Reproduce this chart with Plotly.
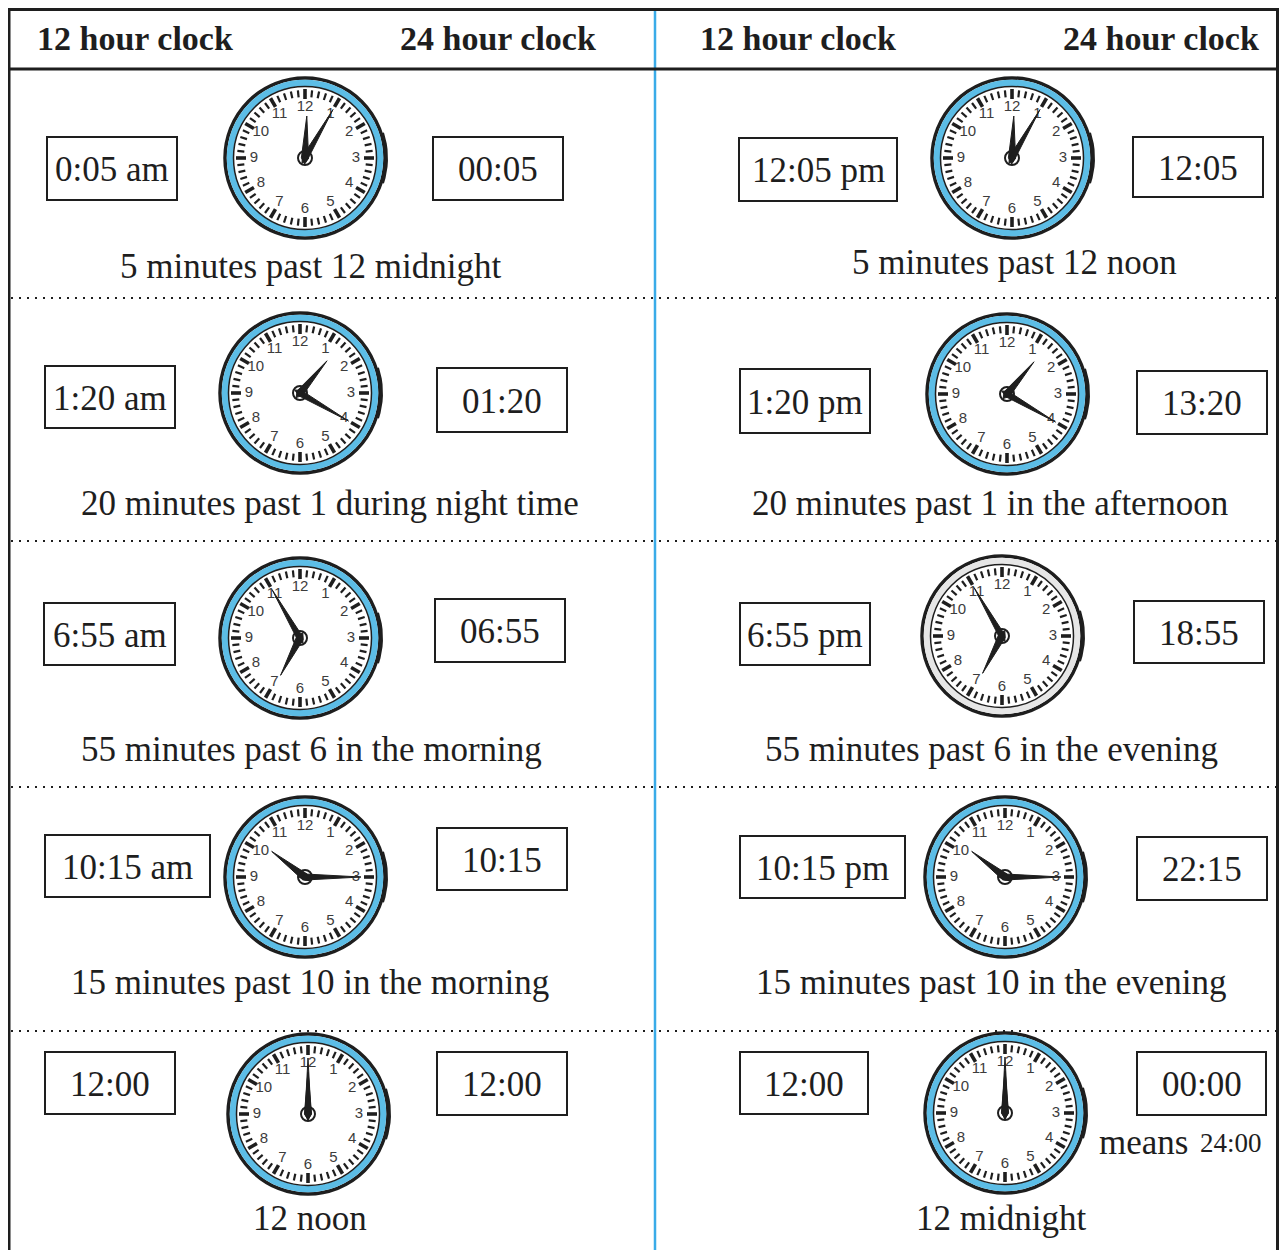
"""12 hour vs 24 hour clock reference sheet, drawn with Plotly shapes."""

import math

import plotly.graph_objects as go

# ---- data -------------------------------------------------------------
LEFT_12H = ["0:05 am", "1:20 am", "6:55 am", "10:15 am", "12:00"]
LEFT_24H = ["00:05", "01:20", "06:55", "10:15", "12:00"]
LEFT_HOURS = [0, 1, 6, 10, 12]
LEFT_MINUTES = [5, 20, 55, 15, 0]
LEFT_CAPTIONS = [
    "5 minutes past 12 midnight",
    "20 minutes past 1 during night time",
    "55 minutes past 6 in the morning",
    "15 minutes past 10 in the morning",
    "12 noon",
]

RIGHT_12H = ["12:05 pm", "1:20 pm", "6:55 pm", "10:15 pm", "12:00"]
RIGHT_24H = ["12:05", "13:20", "18:55", "22:15", "00:00"]
RIGHT_HOURS = [12, 13, 18, 22, 0]
RIGHT_MINUTES = [5, 20, 55, 15, 0]
RIGHT_CAPTIONS = [
    "5 minutes past 12 noon",
    "20 minutes past 1 in the afternoon",
    "55 minutes past 6 in the evening",
    "15 minutes past 10 in the evening",
    "12 midnight",
]

HEADERS = ["12 hour clock", "24 hour clock"]
DIAL_NUMBERS = list(range(1, 13))

# ---- layout (pixel positions on the sheet) ----------------------------
W, H = 1287, 1250
PAGE = 8  # default body margin of the html page
RIGHT_EDGE = 1277.5  # last fully visible column inside the page body
INK = "#1e1e1e"
BLUE = "#5cbde6"
SERIF = "Liberation Serif, Times New Roman, serif"
SANS = "Liberation Sans, Arial, sans-serif"
FS = 35

ROW_LINES = [298, 541, 787, 1031]
# (box12 x0,x1,y0,y1), clock (cx,cy), (box24 x0,x1,y0,y1), caption (x,y)
LEFT_POS = [
    ((47, 177, 137, 200), (305, 158), (433, 563, 137, 200), (310, 266)),
    ((45, 175, 366, 428), (300, 393), (437, 567, 368, 432), (330, 503)),
    ((44, 175, 603, 665), (300, 638), (435, 565, 599, 662), (311, 749)),
    ((45, 210, 835, 897), (305, 877), (437, 567, 828, 890), (310, 982)),
    ((45, 175, 1052, 1114), (308, 1114), (437, 567, 1052, 1115), (310, 1218)),
]
RIGHT_POS = [
    ((739, 897, 138, 201), (1012, 158), (1133, 1263, 137, 197), (1014, 262)),
    ((740, 870, 369, 433), (1007, 394), (1137, 1267, 371, 434), (990, 503)),
    ((740, 870, 603, 665), (1002, 636), (1134, 1264, 601, 663), (991, 749)),
    ((740, 905, 836, 898), (1005, 877), (1137, 1267, 837, 900), (991, 982)),
    ((740, 868, 1052, 1114), (1005, 1113), (1137, 1266, 1052, 1115), (1001, 1218)),
]
RING_COLORS_RIGHT = [BLUE, BLUE, "#e6e6e6", BLUE, BLUE]

fig = go.Figure()


def text(x, y, s, size=FS, family=SERIF, anchor="center"):
    fig.add_annotation(x=x, y=y, text=s, showarrow=False, xanchor=anchor,
                       yanchor="middle", font=dict(family=family, size=size, color=INK))


def box(x0, x1, y0, y1, s):
    fig.add_shape(type="rect", x0=x0, x1=x1, y0=y0, y1=y1,
                  line=dict(color=INK, width=2), fillcolor="white", layer="below")
    text((x0 + x1) / 2, (y0 + y1) / 2 + 1, s)


def circle(cx, cy, r, color, width, fill=None, layer="below"):
    fig.add_shape(type="circle", x0=cx - r, x1=cx + r, y0=cy - r, y1=cy + r,
                  line=dict(color=color, width=width),
                  fillcolor=fill or "rgba(0,0,0,0)", layer=layer)


def polar(cx, cy, r, deg):
    a = math.radians(deg)
    return cx + r * math.sin(a), cy - r * math.cos(a)


def hand(cx, cy, deg, length, half, tail=6):
    a = math.radians(deg)
    tx, ty = polar(cx, cy, length, deg)
    bx, by = polar(cx, cy, -tail, deg)
    p1 = (cx + half * math.cos(a), cy + half * math.sin(a))
    p2 = (cx - half * math.cos(a), cy - half * math.sin(a))
    path = f"M {bx:.1f},{by:.1f} L {p1[0]:.1f},{p1[1]:.1f} L {tx:.1f},{ty:.1f} L {p2[0]:.1f},{p2[1]:.1f} Z"
    fig.add_shape(type="path", path=path, fillcolor=INK, line=dict(color=INK, width=1),
                  layer="above")


def clock(cx, cy, hour, minute, ring=BLUE, r=80):
    circle(cx, cy, r, INK, 3.5, fill="white")
    circle(cx, cy, r - 5, ring, 6.5)
    circle(cx, cy, r - 8.5, INK, 1.5)

    # crown bulge on the right edge
    arc = [polar(cx, cy, r + 1.5, d) for d in range(72, 109, 4)]
    fig.add_trace(go.Scatter(x=[p[0] for p in arc], y=[p[1] for p in arc], mode="lines",
                             line=dict(color=INK, width=3), hoverinfo="skip"))

    for major in (False, True):
        xs, ys = [], []
        for m in range(60):
            if (m % 5 == 0) != major:
                continue
            r0, r1 = (r - 21, r - 11) if major else (r - 19, r - 12)
            (x0, y0), (x1, y1) = polar(cx, cy, r0, m * 6), polar(cx, cy, r1, m * 6)
            xs += [x0, x1, None]
            ys += [y0, y1, None]
        fig.add_trace(go.Scatter(x=xs, y=ys, mode="lines", hoverinfo="skip",
                                 line=dict(color=INK, width=3.6 if major else 2.2)))

    pts = [polar(cx, cy, r - 29, n * 30) for n in DIAL_NUMBERS]
    fig.add_trace(go.Scatter(x=[p[0] for p in pts], y=[p[1] for p in pts], mode="text",
                             text=[str(n) for n in DIAL_NUMBERS], hoverinfo="skip",
                             textfont=dict(family=SANS, size=15, color="#3c3c3c")))

    circle(cx, cy, 7, INK, 2, fill="white", layer="above")
    hand(cx, cy, ((hour % 12) + minute / 60) * 30, 42, 3.6)
    hand(cx, cy, minute * 6, 56, 3.0)
    circle(cx, cy, 2.5, INK, 1, fill=INK, layer="above")


# ---- frame --------------------------------------------------------------
def line(x0, y0, x1, y1, color=INK, width=3, dash=None):
    fig.add_shape(type="line", x0=x0, y0=y0, x1=x1, y1=y1, layer="below",
                  line=dict(color=color, width=width, dash=dash))


for y in ROW_LINES:
    line(11, y, RIGHT_EDGE - 1, y, width=2, dash="2px,6px")
line(655, 0, 655, H, color="#3aabe8", width=2.5)
line(9, 9.5, RIGHT_EDGE, 9.5)
line(9, 69, RIGHT_EDGE, 69)
line(9, 8, 9, H)
line(RIGHT_EDGE, 8, RIGHT_EDGE, H)

for x, s in zip([135, 498, 798, 1161], HEADERS * 2):
    text(x, 38, f"<b>{s}</b>", size=34)

for i in range(5):
    for pos, t12, t24, h, m, cap, ring in (
        (LEFT_POS[i], LEFT_12H[i], LEFT_24H[i], LEFT_HOURS[i], LEFT_MINUTES[i],
         LEFT_CAPTIONS[i], BLUE),
        (RIGHT_POS[i], RIGHT_12H[i], RIGHT_24H[i], RIGHT_HOURS[i], RIGHT_MINUTES[i],
         RIGHT_CAPTIONS[i], RING_COLORS_RIGHT[i]),
    ):
        b12, c, b24, capxy = pos
        box(*b12, t12)
        box(*b24, t24)
        clock(c[0], c[1], h, m, ring=ring)
        text(capxy[0], capxy[1], cap)

text(1190, 1142, "means", anchor="right")
text(1198, 1143, "24:00", size=27, anchor="left")

# the page puts the plot 8px in from the top-left corner and shows it up to
# x = 1279, so the axes run 1 unit per pixel from 8 onwards
fig.update_layout(
    width=W - 2 * PAGE, height=H - PAGE, margin=dict(l=0, r=0, t=0, b=0),
    paper_bgcolor="white", plot_bgcolor="white", showlegend=False,
    xaxis=dict(range=[PAGE, W - PAGE], visible=False, fixedrange=True),
    yaxis=dict(range=[H, PAGE], visible=False, fixedrange=True),
)
fig.write_html("out.html")
